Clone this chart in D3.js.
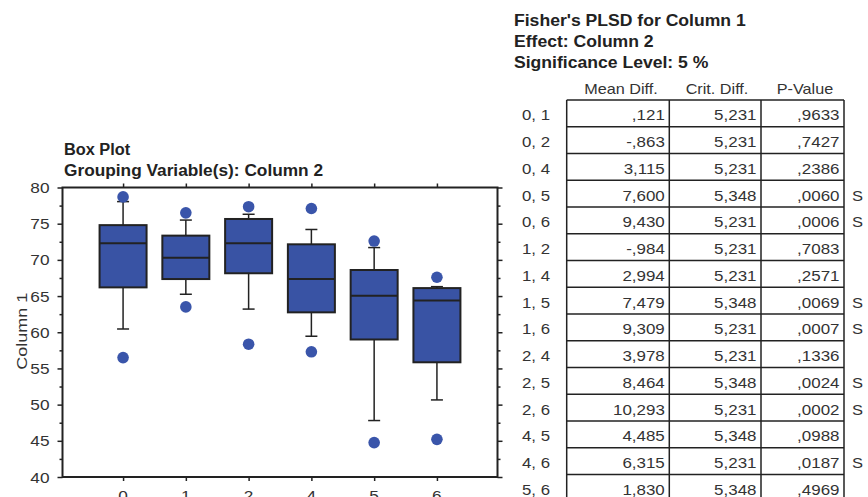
<!DOCTYPE html>
<html><head><meta charset="utf-8">
<script src="https://cdn.jsdelivr.net/npm/d3@7"></script>
<style>
body{margin:0;background:#fff;}
svg{display:block;font-family:"Liberation Sans",Arial,sans-serif;}
</style></head>
<body><svg id="c" width="868" height="497"></svg>
<script>
// ---- Box plot data ----
const groups = ["0","1","2","4","5","6"];
const lowerCap = [60.45, 65.25, 63.2, 59.45, 47.8, 50.65];
const q1 =       [66.2, 67.35, 68.15, 62.75, 59.0, 55.85];
const median =   [72.3, 70.3, 72.3, 67.35, 65.05, 64.4];
const q3 =       [74.8, 73.35, 75.65, 72.15, 68.6, 66.1];
const upperCap = [78.05, 75.5, 76.3, 74.2, 71.7, 66.3];
const outlierHigh = [78.7, 76.5, 77.35, 77.1, 72.6, 67.6];
const outlierLow =  [56.5, 63.5, 58.35, 57.3, 44.75, 45.2];
const yTicks = [40, 45, 50, 55, 60, 65, 70, 75, 80];

// ---- Fisher's PLSD table data ----
const pairs = ["0, 1","0, 2","0, 4","0, 5","0, 6","1, 2","1, 4","1, 5","1, 6","2, 4","2, 5","2, 6","4, 5","4, 6","5, 6"];
const meanDiff = [",121","-,863","3,115","7,600","9,430","-,984","2,994","7,479","9,309","3,978","8,464","10,293","4,485","6,315","1,830"];
const critDiff = ["5,231","5,231","5,231","5,348","5,231","5,231","5,231","5,348","5,231","5,231","5,348","5,231","5,348","5,231","5,348"];
const pValue = [",9633",",7427",",2386",",0060",",0006",",7083",",2571",",0069",",0007",",1336",",0024",",0002",",0988",",0187",",4969"];
const sig = ["","","","S","S","","","S","S","","S","S","","S",""];
const headers = ["Mean Diff.","Crit. Diff.","P-Value"];

const svg = d3.select("#c");
const ink = "#222";
const txt = "#333";
const boxFill = "#3953A4";
const dotFill = "#3A55AA";

// helper: horizontally stretched text
function stext(parent, x, y, str, o) {
  o = o || {};
  const t = parent.append("text")
    .attr("transform", `translate(${x},${y}) scale(${o.sx || 1},1)`)
    .attr("font-size", o.size || 15)
    .attr("fill", o.fill || txt)
    .attr("text-anchor", o.anchor || "start")
    .text(str);
  if (o.bold) t.attr("font-weight", "bold");
  return t;
}

// plot area
const L = 62.5, R = 497.5, T = 187.5, B = 477;
const y = d3.scaleLinear().domain([40, 80]).range([B, T]);
const x = d3.scalePoint().domain(groups).range([L, R]).padding(0.965);

// titles
stext(svg, 64, 155, "Box Plot", {size: 16, bold: true, fill: ink, sx: 1.02});
stext(svg, 64, 175.5, "Grouping Variable(s): Column 2", {size: 16, bold: true, fill: ink, sx: 1.08});

// minor ticks
const minor = d3.range(42.5, 80, 5);
const gAxis = svg.append("g");
// left axis
const gl = gAxis.append("g").attr("transform", `translate(${L},0)`)
  .call(d3.axisLeft(y).tickValues(yTicks).tickSize(5).tickFormat(""));
gl.select(".domain").remove();
gl.selectAll(".tick line").attr("stroke", ink).attr("stroke-width", 1.5);
yTicks.forEach(v => stext(gAxis, 49.5, y(v) + 5.5, String(v), {size: 15, anchor: "end", sx: 1.15}));
const glm = gAxis.append("g").attr("transform", `translate(${L},0)`).call(d3.axisLeft(y).tickValues(minor).tickSize(3).tickFormat(""));
glm.select(".domain").remove();
glm.selectAll(".tick line").attr("stroke", ink).attr("stroke-width", 1.5);
// right axis
const gr = gAxis.append("g").attr("transform", `translate(${R},0)`).call(d3.axisRight(y).tickValues(yTicks).tickSize(5).tickFormat(""));
gr.select(".domain").remove();
gr.selectAll(".tick line").attr("stroke", ink).attr("stroke-width", 1.5);
const grm = gAxis.append("g").attr("transform", `translate(${R},0)`).call(d3.axisRight(y).tickValues(minor).tickSize(3).tickFormat(""));
grm.select(".domain").remove();
grm.selectAll(".tick line").attr("stroke", ink).attr("stroke-width", 1.5);
// bottom axis
const gb = gAxis.append("g").attr("transform", `translate(0,${B})`).call(d3.axisBottom(x).tickSize(4).tickFormat(""));
gb.select(".domain").remove();
gb.selectAll(".tick line").attr("stroke", ink).attr("stroke-width", 1.5);
groups.forEach(g => stext(gAxis, x(g), B + 24, g, {size: 15, anchor: "middle", sx: 1.15}));
// top axis
const gt = gAxis.append("g").attr("transform", `translate(0,${T})`).call(d3.axisTop(x).tickSize(4).tickFormat(""));
gt.select(".domain").remove();
gt.selectAll(".tick line").attr("stroke", ink).attr("stroke-width", 1.5);

// frame
svg.append("rect").attr("x", L).attr("y", T).attr("width", R - L).attr("height", B - T)
  .attr("fill", "none").attr("stroke", ink).attr("stroke-width", 2);

// y label
svg.append("text").attr("transform", `translate(26.5,${(T + B) / 2 - 1}) rotate(-90) scale(1.2,1)`)
  .attr("text-anchor", "middle").attr("font-size", 15).attr("fill", txt).text("Column 1");

// boxes
const bw = 47, cw = 12;
const gBox = svg.append("g");
groups.forEach((g, i) => {
  const cx = x(g);
  const gg = gBox.append("g");
  gg.append("line").attr("x1", cx).attr("x2", cx).attr("y1", y(upperCap[i])).attr("y2", y(q3[i])).attr("stroke", ink).attr("stroke-width", 1.5);
  gg.append("line").attr("x1", cx).attr("x2", cx).attr("y1", y(q1[i])).attr("y2", y(lowerCap[i])).attr("stroke", ink).attr("stroke-width", 1.5);
  gg.append("line").attr("x1", cx - cw / 2).attr("x2", cx + cw / 2).attr("y1", y(upperCap[i])).attr("y2", y(upperCap[i])).attr("stroke", ink).attr("stroke-width", 1.5);
  gg.append("line").attr("x1", cx - cw / 2).attr("x2", cx + cw / 2).attr("y1", y(lowerCap[i])).attr("y2", y(lowerCap[i])).attr("stroke", ink).attr("stroke-width", 1.5);
  gg.append("rect").attr("x", cx - bw / 2).attr("y", y(q3[i])).attr("width", bw).attr("height", y(q1[i]) - y(q3[i]))
    .attr("fill", boxFill).attr("stroke", ink).attr("stroke-width", 2);
  gg.append("line").attr("x1", cx - bw / 2).attr("x2", cx + bw / 2).attr("y1", y(median[i])).attr("y2", y(median[i])).attr("stroke", ink).attr("stroke-width", 2);
  gg.append("circle").attr("cx", cx).attr("cy", y(outlierHigh[i])).attr("r", 5.8).attr("fill", dotFill);
  gg.append("circle").attr("cx", cx).attr("cy", y(outlierLow[i])).attr("r", 5.8).attr("fill", dotFill);
});

// ---- table ----
const tx = 514;
stext(svg, tx, 25.5, "Fisher's PLSD for Column 1", {size: 16, bold: true, fill: ink, sx: 1.1});
stext(svg, tx, 46.5, "Effect: Column 2", {size: 16, bold: true, fill: ink, sx: 1.1});
stext(svg, tx, 67.5, "Significance Level: 5 %", {size: 16, bold: true, fill: ink, sx: 1.1});

const colX = [566.7, 669.3, 761, 844];
const rowTop = 100, rowH = 26.75;
const ry = d3.scaleLinear().domain([0, pairs.length]).range([rowTop, rowTop + rowH * pairs.length]);
const hdrCenters = [621, 717, 805];
headers.forEach((h, j) => {
  stext(svg, hdrCenters[j], 93.5, h, {size: 15, anchor: "middle", sx: 1.08});
});
const tg = svg.append("g");
pairs.forEach((p, i) => {
  const base = ry(i) + rowH / 2 + 7;
  stext(tg, 522, base, p, {size: 15, sx: 1.12});
  [meanDiff[i], critDiff[i], pValue[i]].forEach((v, j) => {
    stext(tg, colX[j + 1] - 4.5, base, v, {size: 15, anchor: "end", sx: 1.13});
  });
  if (sig[i]) stext(tg, 852, base, sig[i], {size: 15, sx: 1.1});
});
d3.range(pairs.length + 1).forEach(i => {
  tg.append("line").attr("x1", colX[0]).attr("x2", colX[3]).attr("y1", ry(i)).attr("y2", ry(i)).attr("stroke", ink).attr("stroke-width", 1.5);
});
colX.forEach(cx => {
  tg.append("line").attr("x1", cx).attr("x2", cx).attr("y1", rowTop).attr("y2", ry(pairs.length)).attr("stroke", ink).attr("stroke-width", 1.5);
});
</script></body></html>
